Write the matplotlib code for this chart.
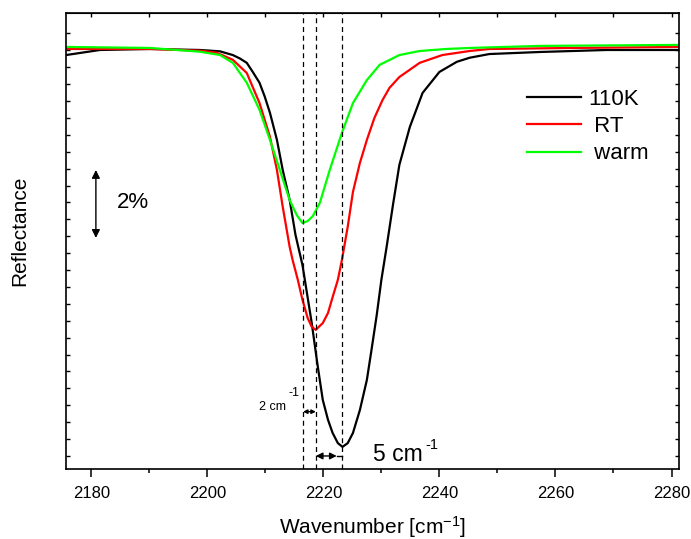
import matplotlib
matplotlib.use("Agg")
import matplotlib.pyplot as plt
import numpy as np

plt.rcParams['font.family'] = ['Liberation Sans', 'DejaVu Sans']
plt.rcParams['mathtext.fontset'] = 'custom'
plt.rcParams['mathtext.rm'] = 'Liberation Sans'
plt.rcParams['mathtext.it'] = 'Liberation Sans:italic'
plt.rcParams['mathtext.bf'] = 'Liberation Sans:bold'

# reflectance curves (y in %, arbitrary offset)
wn_110k = [2175.65, 2181.5, 2190.1, 2198.7, 2202.2, 2204.4, 2205.6, 2206.8, 2207.8,
           2209.0, 2209.9, 2210.8, 2212.0, 2213.0, 2214.2, 2215.2, 2216.4, 2218.0,
           2219.0, 2219.9, 2220.8, 2221.6, 2222.5, 2223.3, 2224.2, 2225.1, 2226.3,
           2227.5, 2228.3, 2229.2, 2230.0, 2230.9, 2232.0, 2233.1, 2234.9, 2237.1,
           2240.0, 2243.0, 2245.2, 2248.6, 2257.2, 2268.8, 2281.2]
r_110k = [11.86, 12.01, 12.04, 12.01, 11.97, 11.86, 11.76, 11.63, 11.37,
          11.04, 10.63, 10.15, 9.35, 8.46, 7.57, 6.54, 5.65, 3.93,
          2.69, 1.66, 1.07, 0.68, 0.38, 0.27, 0.38, 0.68, 1.36,
          2.25, 3.14, 4.17, 5.21, 6.18, 7.43, 8.61, 9.73, 10.74,
          11.36, 11.66, 11.78, 11.89, 11.95, 12.01, 12.01]

wn_rt = [2175.65, 2190.1, 2198.7, 2201.6, 2204.4, 2206.8, 2209.0, 2210.8, 2212.0,
         2213.0, 2214.2, 2214.7, 2215.6, 2216.4, 2217.3, 2218.0, 2218.7, 2219.4,
         2219.9, 2220.8, 2221.6, 2222.5, 2223.2, 2224.2, 2225.1, 2226.3, 2227.5,
         2228.8, 2230.2, 2231.4, 2233.1, 2236.6, 2240.5, 2245.2, 2248.6, 2262.9,
         2281.2]
r_rt = [12.04, 12.04, 11.99, 11.93, 11.72, 11.33, 10.44, 9.44, 8.46,
        7.37, 6.18, 5.80, 5.21, 4.62, 4.08, 3.82, 3.73, 3.85,
        3.93, 4.23, 4.70, 5.21, 5.80, 6.78, 7.81, 8.67, 9.35,
        10.00, 10.53, 10.89, 11.21, 11.63, 11.86, 11.98, 12.04, 12.07,
        12.10]

wn_warm = [2175.65, 2190.1, 2198.7, 2202.2, 2204.4, 2206.8, 2209.0, 2210.8, 2212.5,
           2214.2, 2215.4, 2216.4, 2217.3, 2218.2, 2219.4, 2221.1, 2223.2, 2225.1,
           2227.5, 2229.7, 2233.1, 2236.6, 2241.2, 2245.2, 2257.2, 2281.2]
r_warm = [12.10, 12.07, 11.96, 11.86, 11.63, 11.04, 10.24, 9.35, 8.46,
          7.57, 7.13, 6.89, 6.95, 7.10, 7.49, 8.46, 9.56, 10.44,
          11.12, 11.57, 11.86, 11.98, 12.04, 12.07, 12.13, 12.16]

labels = ['110K', ' RT', ' warm']
colours = ['black', '#ff0000', '#00ff00']
peak_pos = [2216.5, 2218.7, 2223.3]

fig = plt.figure(figsize=(6.91, 5.39), dpi=100)
ax = fig.add_axes([0.0951, 0.1299, 0.8876, 0.8451])

for wn, r, lab, c in zip([wn_110k, wn_rt, wn_warm], [r_110k, r_rt, r_warm], labels, colours):
    ax.plot(wn, r, color=c, lw=1.6, label=lab, solid_joinstyle='round')

for p in peak_pos:
    ax.axvline(p, color='black', lw=0.9, ls=(0, (4, 3)))

ax.set_xlim(2175.6, 2281.3)
ax.set_ylim(-0.385, 13.09)

ax.set_xticks(np.arange(2180, 2281, 20))
ax.set_xticks(np.arange(2190, 2281, 20), minor=True)
ax.set_yticks(np.arange(0, 12.6, 0.5))
ax.tick_params(axis='x', which='major', direction='out', length=6, width=1.1,
               labelsize=12, pad=6)
ax.tick_params(axis='x', which='minor', direction='out', length=3, width=1.1)
ax.tick_params(axis='y', direction='in', length=3, width=1.0, left=True, right=True,
               labelleft=False)
for s in ax.spines.values():
    s.set_linewidth(1.2)

top = ax.secondary_xaxis('top')
top.set_xticks(np.arange(2180, 2281, 10))
top.tick_params(direction='in', length=3, width=1.0, labeltop=False)

ax.set_xlabel('Wavenumber [cm$^{-1}$]', fontsize=15)
ax.xaxis.set_label_coords(0.5, -0.127)
ax.xaxis.label.set_verticalalignment('center')
ax.set_ylabel('Reflectance', fontsize=15)
ax.yaxis.set_label_coords(-0.0745, 0.5225)
ax.yaxis.label.set_verticalalignment('center')

# 2% scale bar
ax.annotate('', xy=(2180.8, 8.46), xytext=(2180.8, 6.45),
            arrowprops=dict(arrowstyle='<|-|>', color='black', lw=1.0,
                            mutation_scale=12, shrinkA=0, shrinkB=0))
ax.text(2184.4, 7.49, '2%', fontsize=16, ha='left', va='center')

# peak shift arrows
ax.annotate('', xy=(peak_pos[0], 1.31), xytext=(peak_pos[1], 1.31),
            arrowprops=dict(arrowstyle='<|-|>', color='black', lw=1.0,
                            mutation_scale=6, shrinkA=0, shrinkB=0))
ax.text(2208.9, 1.45, '2 cm', fontsize=9, ha='left', va='center')
ax.text(2214.0, 1.85, '-1', fontsize=9, ha='left', va='center')

ax.annotate('', xy=(peak_pos[1], 0.0), xytext=(2222.3, 0.0),
            arrowprops=dict(arrowstyle='<|-|>', color='black', lw=1.0,
                            mutation_scale=10, shrinkA=0, shrinkB=0))
ax.plot([2222.3, peak_pos[2]], [0.0, 0.0], color='black', lw=1.0)
ax.text(2228.5, 0.03, '5 cm', fontsize=16.5, ha='left', va='center')
ax.text(2237.5, 0.32, '-1', fontsize=10.5, ha='left', va='center')

ax.legend(loc='upper left', bbox_to_anchor=(527 / 691, 1 - 89 / 539),
          bbox_transform=fig.transFigure, frameon=False, fontsize=16,
          handlelength=2.45, handletextpad=0.3, labelspacing=0.28,
          borderpad=0, borderaxespad=0)

fig.savefig('out.png', dpi=100)
